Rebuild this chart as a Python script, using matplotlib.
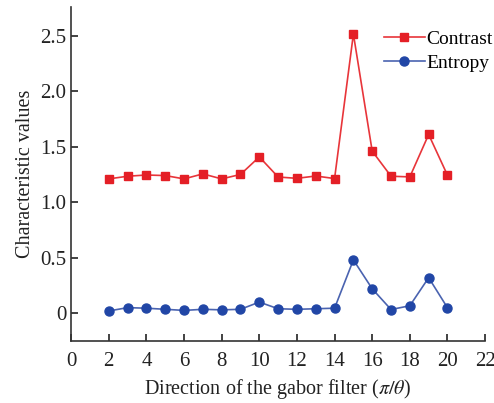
import matplotlib
matplotlib.use("Agg")
import matplotlib.pyplot as plt

# data
direction = [2, 3, 4, 5, 6, 7, 8, 9, 10, 11, 12, 13, 14, 15, 16, 17, 18, 19, 20]
contrast = [1.21, 1.234, 1.245, 1.24, 1.21, 1.255, 1.21, 1.25, 1.408, 1.227, 1.215,
            1.236, 1.213, 2.515, 1.46, 1.234, 1.228, 1.61, 1.243]
entropy = [0.02, 0.05, 0.045, 0.035, 0.025, 0.035, 0.03, 0.035, 0.10, 0.04, 0.035,
           0.04, 0.045, 0.48, 0.22, 0.033, 0.067, 0.32, 0.049]
xticks = [0, 2, 4, 6, 8, 10, 12, 14, 16, 18, 20, 22]
yticks = [0, 0.5, 1.0, 1.5, 2.0, 2.5]
yticklabels = ["0", "0.5", "1.0", "1.5", "2.0", "2.5"]

plt.rcParams['font.family'] = ['Liberation Serif', 'DejaVu Serif']
plt.rcParams['mathtext.fontset'] = 'stix'

fig = plt.figure(figsize=(4.94, 4.03), dpi=100)
ax = fig.add_axes([0.144, 0.154, 0.838, 0.829])

ax.plot(direction, contrast, color='#e8353a', lw=1.2, marker='s', ms=6,
        mfc='#e41f26', mec='#e41f26', label="Contrast")
ax.plot(direction, entropy, color='#4a63b0', lw=1.2, marker='o', ms=6.5,
        mfc='#2146a6', mec='#2146a6', label="Entropy")

ax.set_xlim(0, 22)
ax.set_ylim(-0.25, 2.76)
ax.set_xticks(xticks)
ax.set_yticks(yticks)
ax.set_yticklabels(yticklabels)
ax.tick_params(axis="both", direction="in", length=5, width=1.2, labelsize=15, colors='#222222')
ax.tick_params(axis="x", pad=8)
ax.spines['top'].set_visible(False)
ax.spines['right'].set_visible(False)
for s in ['left', 'bottom']:
    ax.spines[s].set_linewidth(1.2)
    ax.spines[s].set_color('#333333')

ax.set_xlabel(r"Direction of the gabor filter ($\pi/\theta$)", fontsize=14.5, color='#222222')
ax.set_ylabel("Characteristic values", fontsize=14.5, color='#222222')

ax.legend(loc="upper left", bbox_to_anchor=(0.755, 0.93), frameon=False, fontsize=14,
          handlelength=2.1, handletextpad=0.1, labelspacing=0.35, borderaxespad=0,
          borderpad=0)

fig.savefig("out.png", dpi=100)
